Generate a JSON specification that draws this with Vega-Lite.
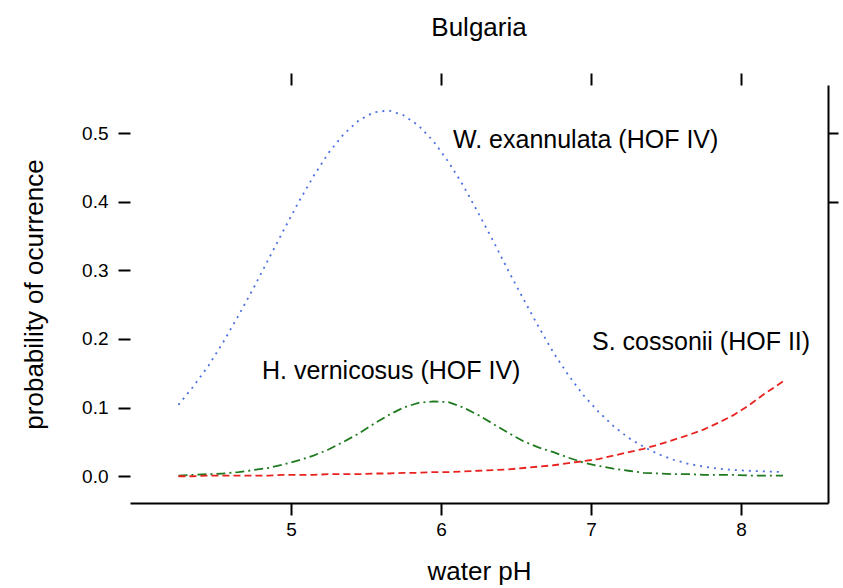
{
  "$schema": "https://vega.github.io/schema/vega-lite/v6.json",
  "autosize": "none",
  "width": 698,
  "height": 418,
  "padding": {"left": 130, "top": 85, "right": 15, "bottom": 85},
  "background": "white",
  "config": {
    "font": "Liberation Sans",
    "view": {"stroke": null},
    "axis": {"grid": false, "domainColor": "black", "tickColor": "black", "labelColor": "black", "titleColor": "black", "titleFontWeight": "normal", "labelFont": "Liberation Sans", "titleFont": "Liberation Sans"}
  },
  "title": {"text": "Bulgaria", "fontSize": 26, "fontWeight": "normal", "color": "black", "offset": 31, "anchor": "middle"},
  "layer": [
    {
      "data": {
        "values": [
          {"pH": 4.25, "W": 0.104, "H": 0.001, "S": 0.000},
          {"pH": 4.35, "W": 0.131, "H": 0.002, "S": 0.000},
          {"pH": 4.45, "W": 0.161, "H": 0.003, "S": 0.001},
          {"pH": 4.55, "W": 0.196, "H": 0.004, "S": 0.001},
          {"pH": 4.65, "W": 0.234, "H": 0.006, "S": 0.001},
          {"pH": 4.75, "W": 0.274, "H": 0.009, "S": 0.001},
          {"pH": 4.85, "W": 0.316, "H": 0.012, "S": 0.001},
          {"pH": 4.95, "W": 0.358, "H": 0.017, "S": 0.002},
          {"pH": 5.05, "W": 0.399, "H": 0.023, "S": 0.002},
          {"pH": 5.15, "W": 0.437, "H": 0.030, "S": 0.002},
          {"pH": 5.25, "W": 0.471, "H": 0.039, "S": 0.003},
          {"pH": 5.35, "W": 0.498, "H": 0.050, "S": 0.003},
          {"pH": 5.45, "W": 0.518, "H": 0.062, "S": 0.003},
          {"pH": 5.55, "W": 0.530, "H": 0.076, "S": 0.004},
          {"pH": 5.65, "W": 0.533, "H": 0.089, "S": 0.004},
          {"pH": 5.75, "W": 0.526, "H": 0.100, "S": 0.005},
          {"pH": 5.85, "W": 0.511, "H": 0.107, "S": 0.005},
          {"pH": 5.95, "W": 0.488, "H": 0.109, "S": 0.006},
          {"pH": 6.05, "W": 0.458, "H": 0.108, "S": 0.006},
          {"pH": 6.15, "W": 0.423, "H": 0.100, "S": 0.007},
          {"pH": 6.25, "W": 0.383, "H": 0.089, "S": 0.008},
          {"pH": 6.35, "W": 0.342, "H": 0.076, "S": 0.009},
          {"pH": 6.45, "W": 0.299, "H": 0.063, "S": 0.010},
          {"pH": 6.55, "W": 0.258, "H": 0.051, "S": 0.012},
          {"pH": 6.65, "W": 0.218, "H": 0.042, "S": 0.014},
          {"pH": 6.75, "W": 0.180, "H": 0.035, "S": 0.016},
          {"pH": 6.85, "W": 0.147, "H": 0.027, "S": 0.019},
          {"pH": 6.95, "W": 0.118, "H": 0.020, "S": 0.022},
          {"pH": 7.05, "W": 0.094, "H": 0.015, "S": 0.025},
          {"pH": 7.15, "W": 0.073, "H": 0.011, "S": 0.030},
          {"pH": 7.25, "W": 0.056, "H": 0.008, "S": 0.035},
          {"pH": 7.35, "W": 0.043, "H": 0.005, "S": 0.040},
          {"pH": 7.45, "W": 0.032, "H": 0.004, "S": 0.046},
          {"pH": 7.55, "W": 0.024, "H": 0.003, "S": 0.053},
          {"pH": 7.65, "W": 0.018, "H": 0.003, "S": 0.060},
          {"pH": 7.75, "W": 0.014, "H": 0.002, "S": 0.068},
          {"pH": 7.85, "W": 0.011, "H": 0.002, "S": 0.078},
          {"pH": 7.95, "W": 0.009, "H": 0.002, "S": 0.089},
          {"pH": 8.05, "W": 0.008, "H": 0.001, "S": 0.103},
          {"pH": 8.15, "W": 0.007, "H": 0.001, "S": 0.119},
          {"pH": 8.28, "W": 0.006, "H": 0.001, "S": 0.138}
        ]
      },
      "transform": [{"fold": ["W", "H", "S"], "as": ["species", "p"]}],
      "mark": {"type": "line", "strokeWidth": 1.8},
      "encoding": {
        "x": {"field": "pH", "type": "quantitative", "scale": {"domain": [3.927, 8.58], "nice": false, "zero": false},
              "axis": {"values": [5, 6, 7, 8], "title": "water pH", "titleFontSize": 26, "labelFontSize": 19, "tickSize": 12, "domainWidth": 2, "tickWidth": 2, "labelPadding": 5, "titlePadding": 19, "format": "d"}},
        "y": {"field": "p", "type": "quantitative", "scale": {"domain": [-0.039, 0.57], "nice": false, "zero": false},
              "axis": {"values": [0, 0.1, 0.2, 0.3, 0.4, 0.5], "format": ".1f", "title": "probability of ocurrence", "titleFontSize": 26, "labelFontSize": 19, "tickSize": 12, "tickWidth": 2, "domain": false, "labelPadding": 10, "titlePadding": 34}},
        "color": {"field": "species", "type": "nominal", "scale": {"domain": ["W", "H", "S"], "range": ["#4a6fe0", "#1f7a1f", "#e8231f"]}, "legend": null},
        "strokeDash": {"field": "species", "type": "nominal", "scale": {"domain": ["W", "H", "S"], "range": [[2, 5], [9, 4, 2, 4], [7, 4]]}, "legend": null}
      }
    },
    {
      "data": {
        "values": [
          {"pH": 6.08, "p": 0.49, "label": "W. exannulata (HOF IV)"},
          {"pH": 4.807, "p": 0.153, "label": "H. vernicosus (HOF IV)"},
          {"pH": 7.007, "p": 0.195, "label": "S. cossonii (HOF II)"}
        ]
      },
      "mark": {"type": "text", "align": "left", "baseline": "middle", "fontSize": 25, "color": "black"},
      "encoding": {
        "x": {"field": "pH", "type": "quantitative", "axis": {"orient": "top", "values": [5, 6, 7, 8], "labels": false, "domain": false, "tickSize": 12, "tickWidth": 2, "title": null, "offset": 0}},
        "y": {"field": "p", "type": "quantitative", "axis": {"orient": "right", "values": [0.4, 0.5], "labels": false, "domain": true, "domainWidth": 2, "tickSize": 10, "tickWidth": 2, "title": null}},
        "text": {"field": "label"}
      }
    }
  ],
  "resolve": {"axis": {"x": "independent", "y": "independent"}}
}
